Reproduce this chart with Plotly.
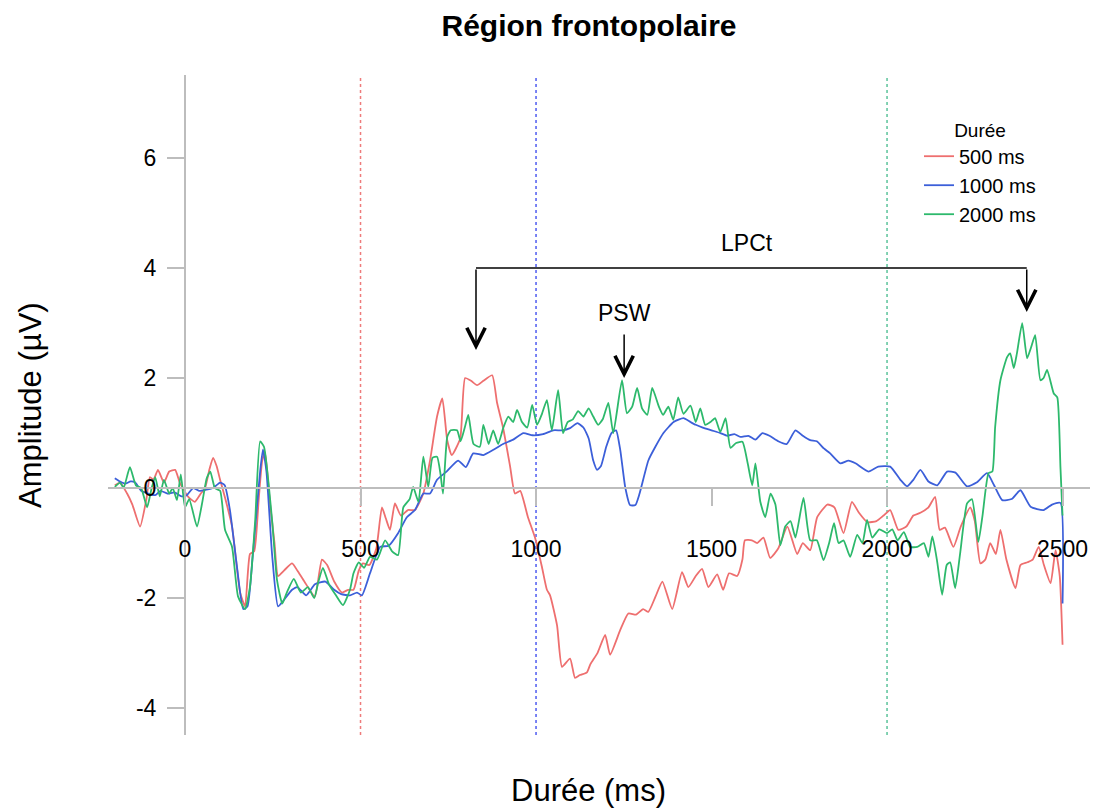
import plotly.graph_objects as go

# ---------------- data ----------------
conditions = ["500 ms", "1000 ms", "2000 ms"]
durations = [500, 1000, 2000]
line_colors = ["#EE6F6F", "#3C5FD9", "#2DB96C"]
dot_colors = ["#EE7B7B", "#4F5BF0", "#5CC39A"]

t_500 = [-200, -185, -165, -150, -128, -110, -100, -90, -77, -60, -45, -28, -15, 8, 28, 45, 57, 70, 80, 90,
         100, 115, 134, 157, 171, 185, 197, 210, 220, 228, 242, 255, 265, 282, 305, 320, 340, 370, 390, 405,
         425, 447, 465, 480, 495, 507, 525, 545, 561, 572, 584, 598, 615, 635, 655, 679, 698, 718, 733, 747,
         760, 784, 798, 815, 832, 850, 875, 889, 906, 926, 940, 955, 977, 997, 1017, 1031, 1040, 1060, 1074, 1097,
         1111, 1125, 1145, 1155, 1175, 1197, 1211, 1240, 1263, 1285, 1305, 1320, 1340, 1360, 1388, 1416, 1434, 1455, 1473, 1491,
         1516, 1533, 1550, 1573, 1588, 1595, 1615, 1630, 1648, 1667, 1690, 1716, 1744, 1760, 1781, 1801, 1830, 1850, 1876, 1900,
         1920, 1944, 1970, 1990, 2009, 2032, 2055, 2075, 2095, 2118, 2137, 2150, 2165, 2189, 2210, 2237, 2250, 2266, 2280, 2294,
         2310, 2323, 2340, 2366, 2380, 2400, 2415, 2432, 2447, 2466, 2480, 2492, 2500]
v_500 = [0.05, 0.1, -0.1, -0.3, -0.7, -0.2, 0.2, 0.15, 0.33, 0.1, 0.3, 0.33, 0.1, -0.15, -0.25, -0.1, 0.0, 0.35, 0.55, 0.4,
         0.15, -0.2, -0.7, -1.9, -2.15, -1.2, -1.15, -0.2, 0.5, 0.65, -0.27, -1.0, -1.6, -1.5, -1.37, -1.5, -1.7, -1.97, -1.3, -1.4,
         -1.7, -1.9, -1.85, -1.85, -1.5, -1.37, -1.4, -1.1, -0.35, -0.55, -0.76, -0.28, -0.5, -0.4, -0.4, -0.1, 0.5, 1.3, 1.63, 0.87,
         0.6, 0.9, 2.0, 1.95, 1.87, 1.95, 2.05, 1.55, 1.1, 0.4, -0.1, -0.05, -0.53, -0.9, -1.44, -1.85, -1.95, -2.5, -3.25, -3.1,
         -3.45, -3.4, -3.35, -3.2, -3.0, -2.67, -3.03, -2.58, -2.28, -2.3, -2.2, -2.25, -1.98, -1.7, -2.2, -1.53, -1.8, -1.6, -1.47, -1.8,
         -1.57, -1.85, -1.55, -1.6, -1.3, -0.95, -0.95, -1.0, -0.9, -1.27, -1.1, -0.7, -1.2, -1.0, -1.13, -0.53, -0.3, -0.35, -0.82, -0.25,
         -0.45, -0.62, -0.6, -0.5, -0.4, -0.76, -0.7, -0.5, -0.45, -0.35, -0.16, -0.76, -0.72, -1.07, -0.7, -0.35, -0.6, -1.37, -1.3, -1.0,
         -1.2, -0.76, -1.3, -1.82, -1.4, -1.35, -1.3, -1.07, -1.4, -1.73, -1.13, -1.6, -2.85]

t_1000 = [-200, -185, -170, -155, -142, -125, -105, -85, -70, -50, -30, -10, 5, 23, 40, 60, 80, 100, 113, 128,
          148, 166, 178, 192, 206, 214, 222, 232, 248, 265, 280, 305, 320, 345, 370, 400, 425, 445, 470, 490,
          504, 527, 556, 580, 607, 632, 655, 679, 698, 718, 745, 778, 800, 821, 850, 880, 906, 935, 964, 990,
          1020, 1049, 1075, 1097, 1118, 1135, 1150, 1163, 1174, 1185, 1200, 1215, 1228, 1240, 1254, 1268, 1283, 1295, 1320, 1340,
          1363, 1392, 1420, 1440, 1455, 1475, 1500, 1525, 1545, 1565, 1582, 1605, 1625, 1645, 1665, 1690, 1714, 1739, 1760, 1781,
          1800, 1820, 1838, 1867, 1890, 1910, 1947, 1975, 2009, 2038, 2057, 2075, 2095, 2118, 2143, 2171, 2195, 2228, 2255, 2285,
          2305, 2328, 2355, 2380, 2409, 2446, 2470, 2494, 2500]
v_1000 = [0.18, 0.12, 0.08, 0.12, 0.1, -0.05, -0.1, -0.13, -0.05, -0.1, -0.08, -0.15, -0.13, 0.0, -0.05, -0.03, 0.0, 0.1, 0.05, -0.4,
          -1.43, -2.2, -2.15, -1.3, -0.27, 0.3, 0.7, 0.3, -1.2, -2.15, -2.05, -1.85, -1.8, -1.95, -1.75, -1.7, -1.85, -1.93, -1.95, -1.9,
          -1.95, -1.55, -1.07, -1.05, -0.82, -0.53, -0.4, -0.1, -0.1, 0.15, 0.3, 0.5, 0.38, 0.63, 0.6, 0.7, 0.8, 0.88, 1.0, 0.96,
          0.98, 1.05, 1.05, 1.09, 1.18, 1.1, 0.9, 0.5, 0.33, 0.4, 0.75, 1.0, 1.05, 0.69, 0.02, -0.31, -0.31, -0.1, 0.5, 0.75,
          1.0, 1.2, 1.27, 1.2, 1.15, 1.1, 1.05, 1.0, 0.95, 0.98, 0.93, 0.95, 0.88, 1.0, 0.95, 0.85, 0.8, 1.05, 0.95, 0.87,
          0.85, 0.72, 0.63, 0.45, 0.5, 0.45, 0.3, 0.39, 0.39, 0.15, 0.03, 0.15, 0.33, 0.12, 0.05, 0.3, 0.28, 0.03, 0.1, 0.27,
          0.05, -0.22, -0.2, -0.04, -0.34, -0.4, -0.3, -0.27, -2.1]

t_2000 = [-200, -185, -175, -157, -140, -125, -108, -95, -85, -72, -60, -45, -35, -23, -12, 0, 12, 34, 48, 62,
          72, 85, 100, 114, 134, 151, 171, 185, 200, 214, 225, 248, 262, 277, 290, 310, 330, 350, 368, 380,
          393, 410, 430, 450, 470, 480, 495, 510, 527, 547, 570, 590, 607, 622, 640, 650, 665, 679, 693, 705,
          718, 728, 735, 747, 757, 775, 785, 797, 807, 822, 840, 850, 865, 878, 892, 907, 921, 935, 946, 960,
          975, 989, 1003, 1017, 1031, 1045, 1063, 1077, 1090, 1105, 1120, 1135, 1150, 1163, 1177, 1190, 1206, 1220, 1245, 1259,
          1274, 1288, 1302, 1317, 1331, 1350, 1362, 1377, 1391, 1405, 1420, 1440, 1455, 1468, 1482, 1497, 1510, 1525, 1540, 1554,
          1570, 1588, 1603, 1616, 1625, 1639, 1653, 1668, 1682, 1696, 1710, 1725, 1739, 1762, 1781, 1800, 1819, 1835, 1849, 1862,
          1876, 1895, 1915, 1930, 1943, 1958, 1978, 2000, 2015, 2030, 2048, 2066, 2086, 2105, 2118, 2129, 2142, 2157, 2170, 2180,
          2194, 2208, 2228, 2242, 2260, 2272, 2289, 2300, 2308, 2323, 2342, 2351, 2361, 2370, 2385, 2399, 2410, 2422, 2437, 2446,
          2456, 2475, 2485, 2494, 2500]
v_2000 = [0.02, 0.1, 0.0, 0.38, 0.05, 0.0, -0.35, 0.0, 0.2, -0.15, 0.15, -0.1, 0.0, -0.22, 0.25, -0.35, -0.2, -0.7, -0.3, 0.18,
          0.3, 0.0, -0.05, -0.76, -1.07, -1.97, -2.2, -1.8, -0.58, 0.85, 0.75, -0.58, -1.67, -2.1, -1.9, -1.65, -1.9, -1.8, -2.0, -1.7,
          -1.45, -1.75, -1.95, -2.13, -1.85, -1.55, -1.35, -1.45, -1.25, -1.3, -0.95, -1.15, -1.22, -0.35, -0.2, 0.02, -0.25, 0.57, 0.02, 0.55,
          0.57, 0.25, -0.1, 0.93, 1.05, 1.05, 0.85, 1.1, 1.33, 0.8, 0.75, 1.15, 0.8, 1.05, 0.8, 1.1, 1.3, 1.2, 1.42, 1.2,
          1.1, 1.51, 1.15, 1.35, 1.6, 1.05, 1.78, 1.0, 1.2, 1.25, 1.4, 1.3, 1.45, 1.3, 1.15, 1.25, 1.55, 1.0, 1.96, 1.36,
          1.48, 1.82, 1.45, 1.33, 1.82, 1.48, 1.33, 1.48, 1.24, 1.65, 1.35, 1.5, 1.2, 1.45, 1.15, 1.2, 1.27, 1.02, 1.27, 0.73,
          0.82, 0.84, 0.45, 0.05, 0.45, -0.25, -0.53, -0.1, -0.3, -1.04, -0.7, -0.6, -0.9, -0.18, -0.95, -0.95, -1.31, -1.0, -0.64, -1.0,
          -0.95, -1.25, -0.85, -1.0, -0.58, -0.9, -0.75, -0.82, -0.75, -0.95, -0.8, -1.07, -1.07, -1.0, -1.25, -0.88, -1.3, -1.94, -1.4, -1.35,
          -1.82, -1.2, -0.28, -0.2, -0.98, -0.5, 0.27, 0.3, 1.11, 1.96, 2.38, 2.45, 2.18, 2.45, 3.0, 2.36, 2.55, 2.78, 1.96, 2.0,
          2.15, 1.72, 1.65, 0.38, -0.5]

x_ticks = [0, 500, 1000, 1500, 2000, 2500]
y_ticks = [-4, -2, 0, 2, 4, 6]
x_range = [-219.4, 2601]
y_range = [-4.49, 7.51]

# annotation landmarks (ms, µV)
lpc_start, lpc_end, lpc_level = 829, 2398, 4.0
lpc_tip_start, lpc_tip_end = 2.51, 3.2
lpc_label = (1601, 4.45)
psw_x, psw_top, psw_tip = 1251, 2.82, 2.0
psw_label_y = 3.18

series_t = [t_500, t_1000, t_2000]
series_v = [v_500, v_1000, v_2000]

# ---------------- figure ----------------
# The page body has an 8 px margin; the figure is sized so that it fits the window exactly.
W, H = 1090, 801
ML, MR, MT, MB = 100, 0, 67, 74
PW, PH = W - ML - MR, H - MT - MB

FONT = "Liberation Sans, Arial, sans-serif"
fig = go.Figure()

for name, t, v, c in zip(conditions, series_t, series_v, line_colors):
    fig.add_trace(go.Scatter(x=t, y=v, mode="lines", name=name,
                             line=dict(color=c, width=1.8, shape="spline", smoothing=0.5)))

# LPCt bracket horizontal bar
fig.add_trace(go.Scatter(x=[lpc_start, lpc_end], y=[lpc_level, lpc_level], mode="lines",
                         line=dict(color="black", width=1.5), showlegend=False, hoverinfo="skip"))

for d, c in zip(durations, dot_colors):
    fig.add_shape(type="line", xref="x", yref="paper", x0=d, x1=d, y0=0, y1=1,
                  line=dict(color=c, width=1.5, dash="dot"), layer="below")

arrow_kw = dict(xref="x", yref="y", axref="x", ayref="y", text="", showarrow=True,
                arrowhead=5, arrowsize=2.4, arrowwidth=1.5, arrowcolor="black", standoff=0)
fig.add_annotation(x=lpc_start, y=lpc_tip_start, ax=lpc_start, ay=lpc_level, **arrow_kw)
fig.add_annotation(x=lpc_end, y=lpc_tip_end, ax=lpc_end, ay=lpc_level, **arrow_kw)
fig.add_annotation(x=psw_x, y=psw_tip, ax=psw_x, ay=psw_top, **arrow_kw)

fig.add_annotation(x=lpc_label[0], y=lpc_label[1], text="LPCt", showarrow=False,
                   font=dict(size=23, color="black"))
fig.add_annotation(x=psw_x, y=psw_label_y, text="PSW", showarrow=False,
                   font=dict(size=23, color="black"))

# axis titles (positions in figure pixels converted to paper fractions)
def px_to_paper_x(px):
    return (px - 8 - ML) / PW

def py_to_paper_y(py):
    return (H - MB - (py - 8)) / PH

fig.add_annotation(xref="paper", yref="paper", x=px_to_paper_x(588), y=py_to_paper_y(790),
                   text="Durée (ms)", showarrow=False, font=dict(size=31, color="black"),
                   xanchor="center", yanchor="middle")
fig.add_annotation(xref="paper", yref="paper", x=px_to_paper_x(30), y=py_to_paper_y(405),
                   text="Amplitude (µV)", showarrow=False, textangle=-90,
                   font=dict(size=31, color="black"), xanchor="center", yanchor="middle")

x_pos = (0 - y_range[0]) / (y_range[1] - y_range[0])
y_pos = (0 - x_range[0]) / (x_range[1] - x_range[0])

fig.update_layout(
    width=W, height=H,
    margin=dict(l=ML, r=MR, t=MT, b=MB, pad=0),
    paper_bgcolor="white", plot_bgcolor="white",
    font=dict(family=FONT, color="black"),
    title=dict(text="<b>Région frontopolaire</b>", x=(589 - 8) / W, xref="container", xanchor="center",
               y=1 - (25 - 8) / H, yref="container", yanchor="middle",
               font=dict(size=30, color="black", family=FONT)),
    xaxis=dict(range=x_range, anchor="free", position=x_pos, showgrid=False, zeroline=False,
               showline=True, linecolor="#BDBDBD", linewidth=2,
               ticks="outside", ticklen=17, tickwidth=2, tickcolor="#BDBDBD",
               tickvals=x_ticks, ticktext=[str(v) for v in x_ticks],
               tickfont=dict(size=23, color="black"), ticklabelstandoff=23),
    yaxis=dict(range=y_range, anchor="free", position=y_pos, showgrid=False, zeroline=False,
               showline=True, linecolor="#BDBDBD", linewidth=2,
               ticks="outside", ticklen=17, tickwidth=2, tickcolor="#BDBDBD",
               tickvals=y_ticks, ticktext=[str(v) for v in y_ticks],
               tickfont=dict(size=23, color="black"), ticklabelstandoff=6),
    legend=dict(x=px_to_paper_x(919), y=py_to_paper_y(112), xanchor="left", yanchor="top",
                bgcolor="rgba(0,0,0,0)", font=dict(size=20, color="black"),
                title=dict(text="Durée", side="top center", font=dict(size=19, color="black")),
                tracegroupgap=0),
    showlegend=True,
)

fig.write_html("out.html")
